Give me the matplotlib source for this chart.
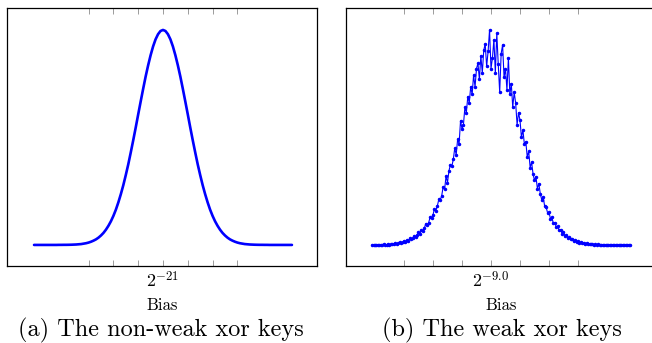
import numpy as np
import matplotlib
matplotlib.use("Agg")
import matplotlib.pyplot as plt

plt.rcParams['font.family'] = ['cmr10', 'DejaVu Serif']
plt.rcParams['mathtext.fontset'] = 'cm'
plt.rcParams['axes.unicode_minus'] = False

# (a) non-weak xor keys: relative counts per bias bin (bins 0.1 tick apart, from -5.2)
count_a = [0.000, 0.000, 0.000, 0.000, 0.000, 0.000, 0.000, 0.000, 0.000, 0.000,
           0.0003, 0.0003, 0.0005, 0.0005, 0.0007,
           0.001, 0.0015, 0.002, 0.003, 0.004, 0.006, 0.008, 0.011, 0.015, 0.020,
           0.026, 0.034, 0.044, 0.056, 0.071, 0.089, 0.110, 0.135, 0.164, 0.198,
           0.236, 0.278, 0.325, 0.375, 0.430, 0.487, 0.546, 0.607, 0.667, 0.726,
           0.783, 0.835, 0.882, 0.923, 0.956, 0.980, 0.995,
           1.000,
           0.995, 0.980, 0.956, 0.923, 0.882, 0.835, 0.783, 0.726, 0.667, 0.607,
           0.546, 0.487, 0.430, 0.375, 0.325, 0.278, 0.236, 0.198, 0.164, 0.135,
           0.110, 0.089, 0.071, 0.056, 0.044, 0.034, 0.026, 0.020, 0.015, 0.011,
           0.008, 0.006, 0.004, 0.003, 0.002, 0.0015, 0.001,
           0.0007, 0.0005, 0.0005, 0.0003, 0.0003,
           0.000, 0.000, 0.000, 0.000, 0.000, 0.000, 0.000, 0.000, 0.000, 0.000]
bias_a = -5.2 + 0.1 * np.arange(len(count_a))

# (b) weak xor keys: relative counts per bias bin (bins 0.05 tick apart, from -4.1)
count_b = [0.000, 0.001, 0.000, 0.000, 0.002, 0.001, 0.000, 0.001, 0.003, 0.001,
           0.002, 0.004, 0.002, 0.003, 0.006, 0.004, 0.008, 0.006, 0.007, 0.013,
           0.010, 0.012, 0.018, 0.014, 0.022, 0.019, 0.030, 0.026, 0.031, 0.042,
           0.036, 0.045, 0.058, 0.052, 0.070, 0.066, 0.078, 0.098, 0.092, 0.104,
           0.128, 0.125, 0.140, 0.168, 0.160, 0.181, 0.212, 0.208, 0.229, 0.270,
           0.258, 0.320, 0.290, 0.345, 0.372, 0.366, 0.398, 0.450, 0.420, 0.492,
           0.470, 0.578, 0.540, 0.560, 0.640, 0.615, 0.690, 0.660, 0.735, 0.700,
           0.790, 0.735, 0.820, 0.845, 0.770, 0.880, 0.800, 0.905, 0.935, 0.830,
           0.900, 1.000, 0.820, 0.870, 0.955, 0.800, 0.985, 0.840, 0.710, 0.890,
           0.930, 0.780, 0.820, 0.720, 0.870, 0.700, 0.750, 0.640, 0.710, 0.660,
           0.560, 0.615, 0.580, 0.500, 0.535, 0.470, 0.480, 0.410, 0.435, 0.360,
           0.385, 0.330, 0.300, 0.318, 0.262, 0.285, 0.238, 0.210, 0.225, 0.180,
           0.176, 0.150, 0.152, 0.122, 0.128, 0.100, 0.104, 0.084, 0.086, 0.068,
           0.071, 0.053, 0.058, 0.043, 0.045, 0.033, 0.037, 0.026, 0.029, 0.020,
           0.023, 0.015, 0.018, 0.011, 0.013, 0.008, 0.010, 0.006, 0.008, 0.004,
           0.006, 0.003, 0.005, 0.002, 0.004, 0.001, 0.003, 0.001, 0.002, 0.000,
           0.001, 0.001, 0.000, 0.001, 0.000, 0.000, 0.000, 0.000, 0.000, 0.000,
           0.000, 0.000, 0.000, 0.000, 0.000, 0.000, 0.000, 0.000, 0.000]
bias_b = -4.10 + 0.05 * np.arange(len(count_b))

ticks = [-3, -2, -1, 0, 1, 2, 3]
labels_a = ['', '', '', r'$2^{-21}$', '', '', '']
labels_b = ['', '', '', r'$2^{-9.0}$', '', '', '']
captions = ['(a) The non-weak xor keys', '(b) The weak xor keys']

W, H = 652, 343
fig = plt.figure(figsize=(W / 100, H / 100), dpi=100)
ax1 = fig.add_axes([7 / W, 77 / H, 310 / W, 258 / H])
ax2 = fig.add_axes([346 / W, 77 / H, 310 / W, 258 / H])

ax1.plot(bias_a, count_a, color='blue', lw=1.9, solid_capstyle='round')
ax2.plot(bias_b, count_b, color='blue', lw=0.8, marker='.', ms=3)

ax1.set_xlim(-6.29, 6.21)
ax2.set_xlim(-5.0, 5.69)

for ax, labs in [(ax1, labels_a), (ax2, labels_b)]:
    ax.set_ylim(-0.098, 1.102)
    ax.set_yticks([])
    ax.set_xticks(ticks)
    ax.set_xticklabels(labs, fontsize=13)
    ax.tick_params(axis='x', direction='in', top=True, bottom=True,
                   length=4, width=0.6, color='0.55', pad=3)
    ax.set_xlabel('Bias', fontsize=12, labelpad=5)
    for s in ax.spines.values():
        s.set_linewidth(0.9)

fig.text(161 / W, 1 - 330 / H, captions[0], fontsize=17.5, ha='center', va='center')
fig.text(502 / W, 1 - 330 / H, captions[1], fontsize=17.5, ha='center', va='center')

fig.savefig('out.png', dpi=100)
